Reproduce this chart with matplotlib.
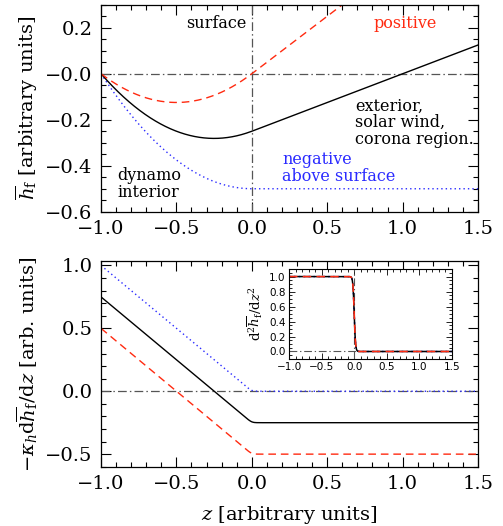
import numpy as np
import matplotlib
matplotlib.use("Agg")
import matplotlib.pyplot as plt
from matplotlib.ticker import MultipleLocator, FixedLocator, FixedFormatter

plt.rcParams['font.family'] = ['DejaVu Serif']
plt.rcParams['mathtext.fontset'] = 'dejavuserif'

# model parameters
z_range = [-1.0, 1.5]
surface_width = 0.02            # width of the tanh transition at the surface z=0
surface_gradient = [0.0, 0.25, 0.5]   # dh/dz above the surface for each case
case_colors = ['#2a2aff', 'black', '#ff2a10']
case_styles = [(0, (1, 2.2)), '-', (0, (5.5, 3.5))]

top_yticks = [-0.6, -0.4, -0.2, 0.0, 0.2]
top_yticklabels = ['\u22120.6', '\u22120.4', '\u22120.2', '\u22120.0', '0.2']
bot_yticks = [-0.5, 0.0, 0.5, 1.0]
bot_yticklabels = ['\u22120.5', '0.0', '0.5', '1.0']
xticks = [-1.0, -0.5, 0.0, 0.5, 1.0, 1.5]
xticklabels = ['\u22121.0', '\u22120.5', '0.0', '0.5', '1.0', '1.5']
inset_yticks = [0.0, 0.2, 0.4, 0.6, 0.8, 1.0]

z = np.linspace(z_range[0], z_range[1], 2501)
d2h = 0.5 * (1.0 - np.tanh(z / surface_width))
# integrate the second derivative, referenced to the exterior (z > 0) value
cum = np.concatenate([[0.0], np.cumsum(0.5 * (d2h[1:] + d2h[:-1]) * np.diff(z))])
cum = cum - cum[-1]

grads, hs = [], []
for s in surface_gradient:
    g = s + cum
    h = np.concatenate([[0.0], np.cumsum(0.5 * (g[1:] + g[:-1]) * np.diff(z))])
    grads.append(g)
    hs.append(h)

fig = plt.figure(figsize=(5.03, 5.26), dpi=100)
ax1 = fig.add_axes([0.2008, 0.5975, 0.7495, 0.3935])
ax2 = fig.add_axes([0.2008, 0.1127, 0.7495, 0.3910])
axi = fig.add_axes([0.5746, 0.3175, 0.3240, 0.1710])

dashdot = dict(color='#555555', lw=0.9, ls=(0, (7, 2.5, 1.2, 2.5)))

def style(ax, fs, xmin, ymin, majlen=7, minlen=3.5):
    ax.tick_params(which='both', direction='in', top=True, right=True,
                   labelsize=fs, width=0.8)
    ax.tick_params(which='major', length=majlen, pad=6)
    ax.tick_params(which='minor', length=minlen)
    ax.xaxis.set_minor_locator(MultipleLocator(xmin))
    ax.yaxis.set_minor_locator(MultipleLocator(ymin))
    for sp in ax.spines.values():
        sp.set_linewidth(0.9)

# top panel: h
ax1.axhline(0.0, **dashdot)
ax1.axvline(0.0, **dashdot)
for h, c, ls in zip(hs, case_colors, case_styles):
    ax1.plot(z, h, color=c, ls=ls, lw=1.0)
ax1.set_xlim(z_range)
ax1.set_ylim(-0.6, 0.3)
ax1.xaxis.set_major_locator(FixedLocator(xticks))
ax1.xaxis.set_major_formatter(FixedFormatter(xticklabels))
ax1.yaxis.set_major_locator(FixedLocator(top_yticks))
ax1.yaxis.set_major_formatter(FixedFormatter(top_yticklabels))
style(ax1, 14, 0.1, 0.05)
ax1.set_ylabel(r'$\overline{h}_\mathrm{f}$ [arbitrary units]', fontsize=14, labelpad=4)

tfs = 11.5
ax1.text(-0.032, 0.217, 'surface', fontsize=tfs, ha='right', va='center')
ax1.text(0.804, 0.217, 'positive', fontsize=tfs, color='#ff2a10', ha='left', va='center')
ax1.text(0.684, -0.213, 'exterior,\nsolar wind,\ncorona region.', fontsize=tfs,
         ha='left', va='center', linespacing=0.95)
ax1.text(0.20, -0.41, 'negative\nabove surface', fontsize=tfs, color='#2a2aff',
         ha='left', va='center', linespacing=0.95)
ax1.text(-0.894, -0.48, 'dynamo\ninterior', fontsize=tfs, ha='left', va='center',
         linespacing=0.95)

# bottom panel: flux  -kappa_h dh/dz
ax2.axhline(0.0, **dashdot)
for g, c, ls in zip(grads, case_colors, case_styles):
    ax2.plot(z, -g, color=c, ls=ls, lw=1.0)
ax2.set_xlim(z_range)
ax2.set_ylim(-0.6, 1.035)
ax2.xaxis.set_major_locator(FixedLocator(xticks))
ax2.xaxis.set_major_formatter(FixedFormatter(xticklabels))
ax2.yaxis.set_major_locator(FixedLocator(bot_yticks))
ax2.yaxis.set_major_formatter(FixedFormatter(bot_yticklabels))
style(ax2, 14, 0.1, 0.1)
ax2.set_ylabel(r'$-\kappa_h\mathrm{d}\overline{h}_\mathrm{f}/\mathrm{d}z$ [arb. units]',
               fontsize=14, labelpad=4)
ax2.set_xlabel(r'$z$ [arbitrary units]', fontsize=14, labelpad=8)

# inset: second derivative
axi.axhline(0.0, **dict(dashdot, lw=0.8))
axi.axvline(0.0, **dict(dashdot, lw=0.8))
for c, ls in zip(case_colors, case_styles):
    axi.plot(z, d2h, color=c, ls=ls, lw=1.1)
axi.set_xlim(z_range)
axi.set_ylim(-0.1, 1.1)
axi.xaxis.set_major_locator(FixedLocator(xticks))
axi.xaxis.set_major_formatter(FixedFormatter(xticklabels))
axi.yaxis.set_major_locator(FixedLocator(inset_yticks))
axi.yaxis.set_major_formatter(FixedFormatter(['%.1f' % v for v in inset_yticks]))
axi.tick_params(which='both', direction='in', top=True, right=True, width=0.6)
axi.tick_params(which='major', length=4, pad=2.5)
axi.tick_params(which='minor', length=2)
axi.xaxis.set_minor_locator(MultipleLocator(0.1))
axi.yaxis.set_minor_locator(MultipleLocator(0.05))
for lab in axi.get_xticklabels() + axi.get_yticklabels():
    lab.set_family('DejaVu Sans')
    lab.set_fontsize(7.5)
for sp in axi.spines.values():
    sp.set_linewidth(0.8)
axi.set_ylabel(r'$\mathrm{d}^2\overline{h}_\mathrm{f}/\mathrm{d}z^2$',
               fontsize=9.5, family='DejaVu Sans', labelpad=3)

fig.savefig('out.png', dpi=100)
